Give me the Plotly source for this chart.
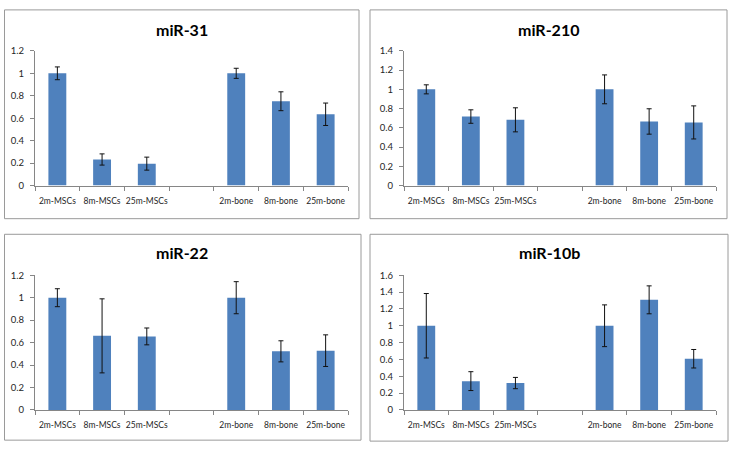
import plotly.graph_objects as go

categories = ["2m-MSCs", "8m-MSCs", "25m-MSCs", " ", "2m-bone", "8m-bone", "25m-bone"]

titles = ["miR-31", "miR-210", "miR-22", "miR-10b"]

mir31_values = [1.0, 0.232, 0.195, None, 1.0, 0.751, 0.635]
mir31_errors = [0.057, 0.05, 0.058, None, 0.045, 0.084, 0.1]

mir210_values = [1.0, 0.717, 0.683, None, 1.0, 0.666, 0.656]
mir210_errors = [0.047, 0.07, 0.125, None, 0.15, 0.132, 0.172]

mir22_values = [1.0, 0.66, 0.655, None, 1.0, 0.522, 0.528]
mir22_errors = [0.08, 0.33, 0.075, None, 0.143, 0.094, 0.141]

mir10b_values = [1.0, 0.342, 0.319, None, 1.0, 1.308, 0.608]
mir10b_errors = [0.383, 0.112, 0.067, None, 0.248, 0.166, 0.11]

y_ranges = [1.2, 1.4, 1.2, 1.6]
y_dticks = [0.2, 0.2, 0.2, 0.2]

W, H = 732, 451
BAR = "#4F81BD"
AXC = "#868686"
FONT = "Lato"

series = [
    (mir31_values, mir31_errors),
    (mir210_values, mir210_errors),
    (mir22_values, mir22_errors),
    (mir10b_values, mir10b_errors),
]

# plot-area pixel boxes: (x0, x1, y_top, y_bottom)
plot_px = [
    (35, 348, 46, 184),
    (404, 716, 46, 184),
    (35, 348, 276, 414),
    (404, 716, 276, 414),
]
border_px = [
    (4.5, 359, 4, 218),
    (370, 727, 4, 218),
    (4.5, 361, 234, 445),
    (370, 728, 234, 446),
]
title_px = [(182, 24), (548, 24), (182, 253), (549, 253)]

fig = go.Figure()
layout = dict(
    width=W, height=H,
    margin=dict(l=0, r=0, t=0, b=0),
    paper_bgcolor="white", plot_bgcolor="white",
    showlegend=False, bargap=0.6,
    font=dict(family=FONT, size=9, color="#262626"),
)
shapes = []
annotations = []

for i, ((vals, errs), ymax) in enumerate(zip(series, y_ranges)):
    n = "" if i == 0 else str(i + 1)
    fig.add_trace(go.Bar(
        x=categories, y=vals,
        marker=dict(color=BAR, line=dict(width=0)),
        error_y=dict(type="data", array=errs, visible=True,
                     color="#111111", thickness=1, width=2.5),
        xaxis="x" + n, yaxis="y" + n,
    ))
    x0, x1, yt, yb = plot_px[i]
    layout["xaxis" + n] = dict(
        domain=[x0 / W, x1 / W], anchor="y" + n,
        type="category", categoryorder="array", categoryarray=categories,
        showline=True, linecolor=AXC, linewidth=1,
        ticks="outside", tickson="boundaries", ticklen=4, tickcolor=AXC,
        showgrid=False, zeroline=False, fixedrange=True,
        tickangle=0,
        tickfont=dict(family=FONT, size=8.5, color="#262626"),
        ticklabelstandoff=7,
    )
    layout["yaxis" + n] = dict(
        domain=[(H - yb) / H, (H - yt) / H], anchor="x" + n,
        range=[0, ymax], dtick=y_dticks[i], tick0=0,
        showline=True, linecolor=AXC, linewidth=1,
        ticks="outside", ticklen=4, tickcolor=AXC,
        showgrid=False, zeroline=False,
        tickfont=dict(family=FONT, size=9.5, color="#262626"),
        ticklabelstandoff=4,
    )
    bx0, bx1, by0, by1 = border_px[i]
    shapes.append(dict(type="rect", xref="paper", yref="paper",
                       x0=bx0 / W, x1=bx1 / W, y0=(H - by1) / H, y1=(H - by0) / H,
                       line=dict(color="#9a9a9a", width=1), fillcolor="rgba(0,0,0,0)"))
    tx, ty = title_px[i]
    annotations.append(dict(text="<b>" + titles[i] + "</b>", xref="paper", yref="paper",
                            x=tx / W, y=(H - ty) / H, showarrow=False,
                            xanchor="center", yanchor="middle",
                            font=dict(family=FONT, size=16, color="#000000")))

layout["shapes"] = shapes
layout["annotations"] = annotations
fig.update_layout(**layout)
fig.write_html(
    "out.html",
    config={"displayModeBar": False, "staticPlot": True},
    post_script=(
        "document.body.style.margin='0';document.body.style.overflow='hidden';"
        "var d=document.getElementById('{plot_id}');"
        "d.style.position='absolute';d.style.top='0px';d.style.left='0px';"
    ),
)
